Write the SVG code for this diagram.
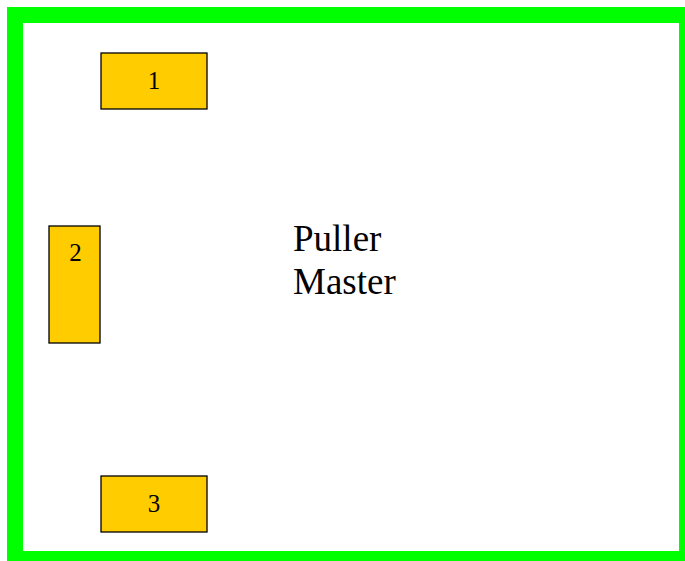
<svg xmlns="http://www.w3.org/2000/svg" width="685" height="561" viewBox="0 0 685 561">
<style>
.node rect{fill:#FFCC00;stroke:#000;stroke-width:1.3}
.num{font-family:"Liberation Serif",serif;font-size:25px;text-anchor:middle;fill:#000}
.title{font-family:"Liberation Serif",serif;font-size:37px;fill:#000}
</style>
<rect x="0" y="0" width="685" height="561" fill="#fff"/>
<g id="frame"><rect x="15" y="15" width="672" height="544" fill="none" stroke="#00FF00" stroke-width="16"/></g>
<g id="connectors"></g>
<g id="node1" class="node"><rect x="101" y="53" width="106" height="56"/><text class="num" x="154" y="89">1</text></g>
<g id="node2" class="node"><rect x="49" y="226" width="51" height="117"/><text class="num" x="75.5" y="261">2</text></g>
<g id="node3" class="node"><rect x="101" y="476" width="106" height="56"/><text class="num" x="154" y="512">3</text></g>
<g id="label"><text class="title" x="293" y="251">Puller</text><text class="title" x="293" y="294">Master</text></g>
</svg>
